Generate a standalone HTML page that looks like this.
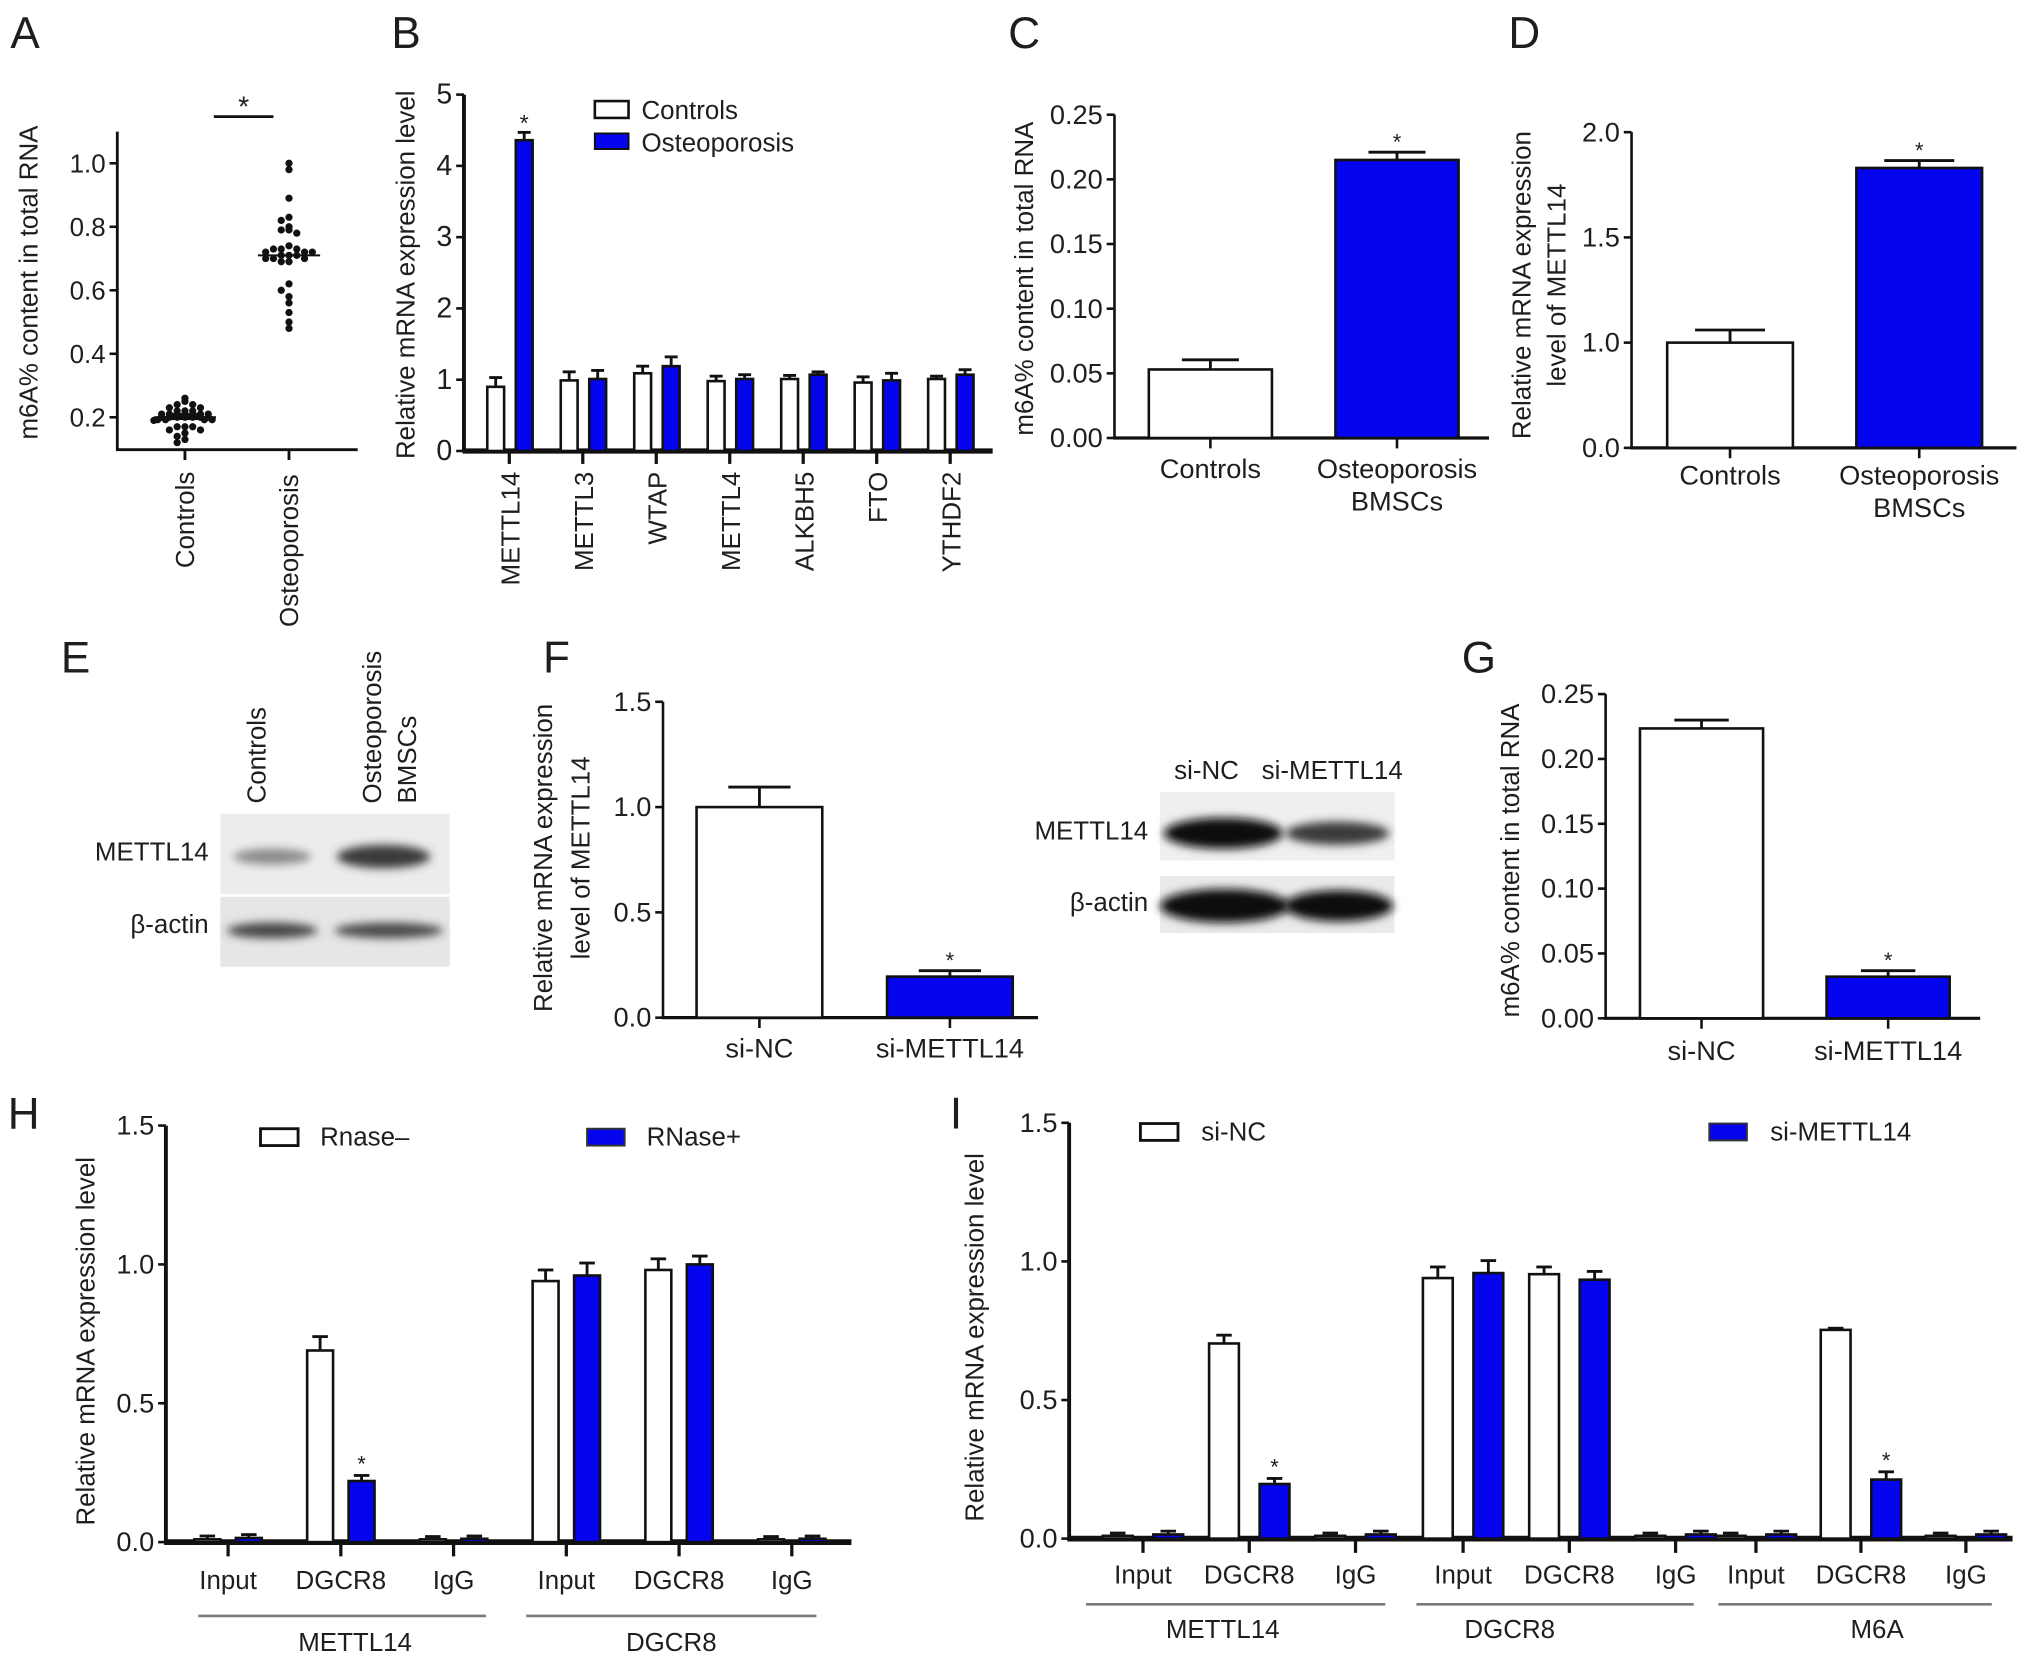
<!DOCTYPE html>
<html><head><meta charset="utf-8">
<style>
html,body{margin:0;padding:0;background:#fff}
svg{display:block}
text{font-family:"Liberation Sans",Arial,sans-serif;fill:#1e1e1e}
</style></head>
<body>
<svg id="fig" xmlns="http://www.w3.org/2000/svg" width="2032" height="1673" viewBox="0 0 1568 1291">
<defs>
<filter id="blur3" x="-30%" y="-80%" width="160%" height="260%"><feGaussianBlur stdDeviation="3.5"/></filter>
</defs>
<rect x="0" y="0" width="1568" height="1291" fill="#fff"/>

<g>
<rect x="170" y="628" width="177" height="62" fill="#ececec"/>
<rect x="170" y="692" width="177" height="54" fill="#e6e6e6"/>
<ellipse cx="210" cy="661" rx="30" ry="6" fill="#8a8a8a" filter="url(#blur3)"/>
<ellipse cx="296" cy="661" rx="36" ry="9" fill="#3a3a3a" filter="url(#blur3)"/>
<ellipse cx="210" cy="718" rx="35" ry="6" fill="#444" filter="url(#blur3)"/>
<ellipse cx="300" cy="718" rx="42" ry="6" fill="#4a4a4a" filter="url(#blur3)"/>
</g>
<g>
<rect x="895" y="611" width="181" height="53" fill="#efefef"/>
<rect x="895" y="676" width="181" height="44" fill="#eaeaea"/>
<ellipse cx="944" cy="643" rx="46" ry="12" fill="#0c0c0c" filter="url(#blur3)"/>
<ellipse cx="1032" cy="643" rx="40" ry="9" fill="#3a3a3a" filter="url(#blur3)"/>
<ellipse cx="945" cy="699" rx="50" ry="13" fill="#0a0a0a" filter="url(#blur3)"/>
<ellipse cx="1033" cy="699" rx="42" ry="12" fill="#111" filter="url(#blur3)"/>
</g>
</svg>
<script>
// ---------- DATA ----------
const aCategories = ["Controls", "Osteoporosis"];
const aControlValues = [0.26,0.25,0.24,0.24,0.23,0.23,0.22,0.22,0.22,0.21,0.21,0.21,0.21,0.20,0.20,0.20,0.20,0.20,0.20,0.20,0.19,0.19,0.19,0.19,0.19,0.18,0.18,0.18,0.18,0.17,0.17,0.17,0.16,0.16,0.15,0.14,0.13,0.12];
const aOsteoValues = [1.00,0.98,0.89,0.83,0.82,0.80,0.79,0.79,0.78,0.74,0.73,0.73,0.73,0.72,0.72,0.72,0.71,0.71,0.71,0.70,0.70,0.70,0.69,0.69,0.62,0.60,0.58,0.56,0.53,0.50,0.48];
const aMedians = [0.20, 0.71];
const aTicks = [0.2, 0.4, 0.6, 0.8, 1.0];
const aTickLabels = ["0.2", "0.4", "0.6", "0.8", "1.0"];

const bGenes = ["METTL14","METTL3","WTAP","METTL4","ALKBH5","FTO","YTHDF2"];
const bControls = [0.90,0.99,1.09,0.98,1.01,0.96,1.01];
const bControlsErr = [0.13,0.12,0.10,0.07,0.05,0.08,0.04];
const bOsteo = [4.36,1.01,1.19,1.01,1.07,0.99,1.07];
const bOsteoErr = [0.11,0.12,0.13,0.06,0.04,0.10,0.07];
const bTicks = [0,1,2,3,4,5];
const bTickLabels = ["0","1","2","3","4","5"];

const cCategories = ["Controls", "Osteoporosis|BMSCs"];
const cValues = [0.053, 0.215];
const cErr = [0.0075, 0.006];
const cTicks = [0, 0.05, 0.10, 0.15, 0.20, 0.25];
const cTickLabels = ["0.00","0.05","0.10","0.15","0.20","0.25"];

const dCategories = ["Controls", "Osteoporosis|BMSCs"];
const dValues = [1.0, 1.83];
const dErr = [0.06, 0.035];
const dTicks = [0.5, 1.0, 1.5, 2.0];
const dTickLabels = ["0.0","1.0","1.5","2.0"];

const fCategories = ["si-NC", "si-METTL14"];
const fValues = [1.0, 0.195];
const fErr = [0.095, 0.028];
const fTicks = [0, 0.5, 1.0, 1.5];
const fTickLabels = ["0.0","0.5","1.0","1.5"];

const gCategories = ["si-NC", "si-METTL14"];
const gValues = [0.2235, 0.0321];
const gErr = [0.0065, 0.0046];
const gTicks = [0, 0.05, 0.10, 0.15, 0.20, 0.25];
const gTickLabels = ["0.00","0.05","0.10","0.15","0.20","0.25"];

const hCategories = ["Input","DGCR8","IgG","Input","DGCR8","IgG"];
const hGroups = ["METTL14","DGCR8"];
const hRnaseMinus = [0.01,0.69,0.01,0.94,0.98,0.01];
const hRnaseMinusErr = [0.012,0.05,0.01,0.04,0.04,0.01];
const hRnasePlus = [0.015,0.22,0.012,0.96,1.0,0.012];
const hRnasePlusErr = [0.012,0.02,0.01,0.045,0.03,0.01];
const hTicks = [0, 0.5, 1.0, 1.5];
const hTickLabels = ["0.0","0.5","1.0","1.5"];

const iCategories = ["Input","DGCR8","IgG","Input","DGCR8","IgG","Input","DGCR8","IgG"];
const iGroups = ["METTL14","DGCR8","M6A"];
const iSiNC = [0.01,0.704,0.01,0.94,0.954,0.01,0.01,0.753,0.01];
const iSiNCErr = [0.01,0.03,0.01,0.04,0.026,0.01,0.01,0.006,0.01];
const iSiMETTL14 = [0.015,0.197,0.015,0.958,0.934,0.015,0.015,0.213,0.015];
const iSiMETTL14Err = [0.012,0.02,0.012,0.045,0.03,0.012,0.012,0.028,0.012];
const iTicks = [0, 0.5, 1.0, 1.5];
const iTickLabels = ["0.0","0.5","1.0","1.5"];

// ---------- HELPERS ----------
const svg = document.getElementById('fig');
const NS = 'http://www.w3.org/2000/svg';
const BLUE = '#0404ee';
function mk(tag, attrs, name, parent) {
  const el = document.createElementNS(NS, tag);
  for (const k in attrs) el.setAttribute(k, attrs[k]);
  
  
  (parent || svg).appendChild(el);
  return el;
}
function txt(x, y, s, size, name, anchor, rot, parent) {
  const a = {x: x, y: y, 'font-size': size, 'text-anchor': anchor || 'middle'};
  if (rot) a.transform = 'rotate(-90 ' + x + ' ' + y + ')';
  const el = mk('text', a, name, parent);
  el.textContent = s;
  return el;
}
function line(x1, y1, x2, y2, w, name, parent, color) {
  return mk('line', {x1: x1, y1: y1, x2: x2, y2: y2, stroke: color || '#111', 'stroke-width': w}, name, parent);
}
function yAxis(g, x, yTop, yBot, ticks, labels, scale, w, fs, pfx) {
  line(x, yTop, x, yBot, w, pfx + '-y-axis-line', g);
  ticks.forEach(function (t, i) {
    const y = scale(t);
    line(x - 6, y, x, y, 2, pfx + '-y-tick', g);
    txt(x - 9, y + 7, labels[i], fs, pfx + '-y-tick-label', 'end', false, g);
  });
}
function bar(g, cx, w, v, e, scale, fill, name, capHalf) {
  const y0 = scale(0 + (scale.base || 0));
  const yv = scale(v);
  mk('rect', {x: cx - w / 2, y: Math.min(yv, y0), width: w, height: Math.max(Math.abs(y0 - yv), 1.5), fill: fill, stroke: '#111', 'stroke-width': 2}, name, g);
  const ye = scale(v + e);
  line(cx, yv, cx, ye, 2.2, name + '-error-bar', g);
  line(cx - capHalf, ye, cx + capHalf, ye, 2.2, name + '-error-cap', g);
}
function panelLetter(x, y, s) {
  txt(x, y, s, 34, 'panel-label-' + s.toLowerCase(), 'start');
}
function multiLabel(g, x, y, s, fs, name) {
  s.split('|').forEach(function (part, k) {
    txt(x, y + k * 25, part, fs, name, 'middle', false, g);
  });
}

panelLetter(8, 37, 'A'); panelLetter(302, 37, 'B'); panelLetter(778, 37, 'C'); panelLetter(1164, 37, 'D');
panelLetter(47, 519, 'E'); panelLetter(419, 519, 'F'); panelLetter(1128, 519, 'G');
panelLetter(6, 871, 'H'); panelLetter(733, 871, 'I');

// ---------- PANEL A ----------
(function () {
  const g = mk('g', {}, 'panel-a-scatter');
  const sy = function (v) { return 126 + (1 - v) * 245; };
  const cx = [142.7, 223];
  yAxis(g, 90.5, 101.6, 347, aTicks, aTickLabels, sy, 2.2, 20, 'a');
  line(89.5, 347, 276, 347, 2.2, 'a-x-axis-line', g);
  cx.forEach(function (x, i) {
    line(x, 347, x, 355, 2.2, 'a-x-tick', g);
  });
  txt(cx[0] + 7, 364, aCategories[0], 20, 'a-x-label-controls', 'end', true, g);
  txt(cx[1] + 7, 366, aCategories[1], 20, 'a-x-label-osteoporosis', 'end', true, g);
  txt(29, 218, 'm6A% content in total RNA', 20, 'a-y-axis-title', 'middle', true, g);
  line(165, 90, 211, 90, 2.2, 'a-significance-line', g);
  txt(188, 90, '*', 22, 'a-significance-star', 'middle', false, g);
  [aControlValues, aOsteoValues].forEach(function (vals, gi) {
    const counts = {};
    vals.forEach(function (v) {
      const key = Math.round(sy(v) / 6);
      const n = counts[key] || 0;
      counts[key] = n + 1;
      const col = n % 8;
      const row = Math.floor(n / 8);
      const off = (col % 2 === 0 ? 1 : -1) * Math.ceil(col / 2) * 6 + row * 3;
      mk('circle', {cx: cx[gi] + off, cy: sy(v) - row * 3, r: 2.8, fill: '#111'}, gi ? 'a-dot-osteoporosis' : 'a-dot-controls', g);
    });
    line(cx[gi] - 24, sy(aMedians[gi]), cx[gi] + 24, sy(aMedians[gi]), 1.6, 'a-median-line', g);
  });
})();

// ---------- PANEL B ----------
(function () {
  const g = mk('g', {}, 'panel-b-bar-chart');
  const sy = function (v) { return 348 - v * 55; };
  yAxis(g, 358, 73, 349, bTicks, bTickLabels, sy, 3, 22, 'b');
  line(357, 348, 766, 348, 4, 'b-x-axis-line', g);
  bGenes.forEach(function (gname, i) {
    const c = 393 + i * 56.7;
    line(c, 348, c, 358, 2.5, 'b-x-tick', g);
    txt(c + 8, 364, gname, 20, 'b-x-label-' + gname.toLowerCase(), 'end', true, g);
    bar(g, c - 10.5, 13, bControls[i], bControlsErr[i], sy, '#fff', 'b-bar-controls-' + gname.toLowerCase(), 5);
    bar(g, c + 11.5, 13, bOsteo[i], bOsteoErr[i], sy, BLUE, 'b-bar-osteoporosis-' + gname.toLowerCase(), 5);
  });
  txt(393 + 11.5, 101, '*', 18, 'b-significance-star', 'middle', false, g);
  txt(320, 212, 'Relative mRNA expression level', 20, 'b-y-axis-title', 'middle', true, g);
  mk('rect', {x: 459, y: 78, width: 26, height: 13, fill: '#fff', stroke: '#111', 'stroke-width': 2}, 'b-legend-swatch-controls', g);
  txt(495, 92, 'Controls', 20, 'b-legend-label-controls', 'start', false, g);
  mk('rect', {x: 459, y: 103, width: 26, height: 12, fill: BLUE, stroke: '#111', 'stroke-width': 1.5}, 'b-legend-swatch-osteoporosis', g);
  txt(495, 117, 'Osteoporosis', 20, 'b-legend-label-osteoporosis', 'start', false, g);
})();

function twoBar(p) {
  const g = mk('g', {}, p.pfx + '-bar-chart');
  yAxis(g, p.ax, p.yTop, p.y0 + 1, p.ticks, p.tickLabels, p.sy, 2, 21, p.pfx);
  line(p.ax - 1, p.y0, p.xEnd, p.y0, 2.5, p.pfx + '-x-axis-line', g);
  p.cats.forEach(function (cat, i) {
    const c = p.centers[i];
    line(c, p.y0, c, p.y0 + 8, 2, p.pfx + '-x-tick', g);
    multiLabel(g, c, p.labelY, cat, 21, p.pfx + '-x-label');
    bar(g, c, p.bw, p.values[i], p.err[i], p.sy, i === 0 ? '#fff' : BLUE, p.pfx + '-bar-' + i, p.cap);
  });
  txt(p.centers[1], p.sy(p.values[1] + p.err[1]) - 2, '*', 17, p.pfx + '-significance-star', 'middle', false, g);
  p.titles.forEach(function (t, k) {
    txt(p.titleX[k], p.titleY, t, 20, p.pfx + '-y-axis-title', 'middle', true, g);
  });
}
const scaleC = function (v) { return 338 - v * 998; };
twoBar({pfx: 'c', ax: 860, yTop: 88.5, y0: 338, xEnd: 1149, ticks: cTicks, tickLabels: cTickLabels, sy: scaleC,
  cats: cCategories, centers: [934, 1078], bw: 95, values: cValues, err: cErr, cap: 22, labelY: 369,
  titles: ['m6A% content in total RNA'], titleX: [797], titleY: 215});
const scaleD = function (v) { return 345.6 - (v - 0.5) * 162.4; };
scaleD.base = 0.5;
twoBar({pfx: 'd', ax: 1259, yTop: 102, y0: 345.6, xEnd: 1556, ticks: dTicks, tickLabels: dTickLabels, sy: scaleD,
  cats: dCategories, centers: [1335, 1481], bw: 97, values: dValues, err: dErr, cap: 27, labelY: 374,
  titles: ['Relative mRNA expression', 'level of METTL14'], titleX: [1181, 1208], titleY: 220});
const scaleF = function (v) { return 785.3 - v * 162.5; };
twoBar({pfx: 'f', ax: 511.6, yTop: 541.5, y0: 785.3, xEnd: 801, ticks: fTicks, tickLabels: fTickLabels, sy: scaleF,
  cats: fCategories, centers: [586, 733], bw: 97, values: fValues, err: fErr, cap: 24, labelY: 816,
  titles: ['Relative mRNA expression', 'level of METTL14'], titleX: [426, 455], titleY: 662});
const scaleG = function (v) { return 785.8 - v * 1000.8; };
twoBar({pfx: 'g', ax: 1239, yTop: 535.6, y0: 785.8, xEnd: 1528, ticks: gTicks, tickLabels: gTickLabels, sy: scaleG,
  cats: gCategories, centers: [1313, 1457], bw: 95, values: gValues, err: gErr, cap: 21, labelY: 818,
  titles: ['m6A% content in total RNA'], titleX: [1172], titleY: 664});

txt(205, 620, 'Controls', 20, 'e-lane-label-controls', 'start', true);
txt(294, 620, 'Osteoporosis', 20, 'e-lane-label-osteoporosis', 'start', true);
txt(321, 620, 'BMSCs', 20, 'e-lane-label-bmscs', 'start', true);
txt(161, 664, 'METTL14', 20, 'e-row-label-mettl14', 'end');
txt(161, 720, 'β-actin', 20, 'e-row-label-actin', 'end');
txt(931, 601, 'si-NC', 20, 'f-blot-lane-label-si-nc', 'middle');
txt(1028, 601, 'si-METTL14', 20, 'f-blot-lane-label-si-mettl14', 'middle');
txt(886, 648, 'METTL14', 20, 'f-blot-row-label-mettl14', 'end');
txt(886, 703, 'β-actin', 20, 'f-blot-row-label-actin', 'end');

function grouped(p) {
  const g = mk('g', {}, p.pfx + '-grouped-bar-chart');
  yAxis(g, p.ax, p.yTop, p.y0 + 2, p.ticks, p.tickLabels, p.sy, 3, 21, p.pfx);
  line(p.ax - 1, p.y0, p.xEnd, p.y0, 4.5, p.pfx + '-x-axis-line', g);
  p.cats.forEach(function (cat, i) {
    const c = p.centers[i];
    line(c, p.y0, c, p.y0 + 11, 2.5, p.pfx + '-x-tick', g);
    txt(c, p.labelY, cat, 20, p.pfx + '-x-label-' + cat.toLowerCase(), 'middle', false, g);
    bar(g, c - p.off, p.bw, p.s1[i], p.e1[i], p.sy, '#fff', p.pfx + '-bar-' + p.n1 + '-' + i, 6);
    bar(g, c + p.off, p.bw, p.s2[i], p.e2[i], p.sy, BLUE, p.pfx + '-bar-' + p.n2 + '-' + i, 6);
  });
  p.groups.forEach(function (gn, k) {
    line(p.groupLines[k][0], p.lineY, p.groupLines[k][1], p.lineY, 2, p.pfx + '-group-line-' + gn.toLowerCase(), g, '#7a7a7a');
    txt((p.groupLines[k][0] + p.groupLines[k][1]) / 2 + p.groupShift[k], p.groupY, gn, 20, p.pfx + '-group-label-' + gn.toLowerCase(), 'middle', false, g);
  });
  p.stars.forEach(function (i) {
    txt(p.centers[i] + p.off, p.sy(p.s2[i] + p.e2[i]) - 3, '*', 17, p.pfx + '-significance-star', 'middle', false, g);
  });
  txt(p.titleX, p.titleY, 'Relative mRNA expression level', 20, p.pfx + '-y-axis-title', 'middle', true, g);
  mk('rect', {x: p.leg[0], y: p.legY, width: 29, height: 13, fill: '#fff', stroke: '#111', 'stroke-width': 2.2}, p.pfx + '-legend-swatch-' + p.n1, g);
  txt(p.leg[0] + p.legGap, p.legY + 13, p.legLabels[0], 20, p.pfx + '-legend-label-' + p.n1, 'start', false, g);
  mk('rect', {x: p.leg[1], y: p.legY, width: 29, height: 13, fill: BLUE, stroke: '#333', 'stroke-width': 1.5}, p.pfx + '-legend-swatch-' + p.n2, g);
  txt(p.leg[1] + p.legGap, p.legY + 13, p.legLabels[1], 20, p.pfx + '-legend-label-' + p.n2, 'start', false, g);
}
const scaleH = function (v) { return 1190 - v * 214.3; };
grouped({pfx: 'h', ax: 128, yTop: 868.6, y0: 1190, xEnd: 657, ticks: hTicks, tickLabels: hTickLabels, sy: scaleH,
  cats: hCategories, centers: [176, 263, 350, 437, 524, 611], off: 16, bw: 20,
  s1: hRnaseMinus, e1: hRnaseMinusErr, s2: hRnasePlus, e2: hRnasePlusErr, n1: 'rnase-minus', n2: 'rnase-plus',
  labelY: 1226, groups: hGroups, groupLines: [[153, 375], [406, 630]], groupShift: [10, 0], lineY: 1247, groupY: 1274,
  stars: [1], titleX: 73, titleY: 1035, leg: [201, 453], legY: 871, legGap: 46, legLabels: ['Rnase\u2013', 'RNase+']});
const scaleI = function (v) { return 1187.3 - v * 213.9; };
grouped({pfx: 'i', ax: 825, yTop: 866.4, y0: 1187.3, xEnd: 1553, ticks: iTicks, tickLabels: iTickLabels, sy: scaleI,
  cats: iCategories, centers: [882, 964, 1046, 1129, 1211, 1293, 1355, 1436, 1517], off: 19.5, bw: 23,
  s1: iSiNC, e1: iSiNCErr, s2: iSiMETTL14, e2: iSiMETTL14Err, n1: 'si-nc', n2: 'si-mettl14',
  labelY: 1222, groups: iGroups, groupLines: [[838, 1069], [1093, 1307], [1326, 1537]], groupShift: [-10, -35, 17], lineY: 1238, groupY: 1264,
  stars: [1, 7], titleX: 759, titleY: 1032, leg: [880, 1319], legY: 867, legGap: 47, legLabels: ['si-NC', 'si-METTL14']});
</script>
</body></html>
